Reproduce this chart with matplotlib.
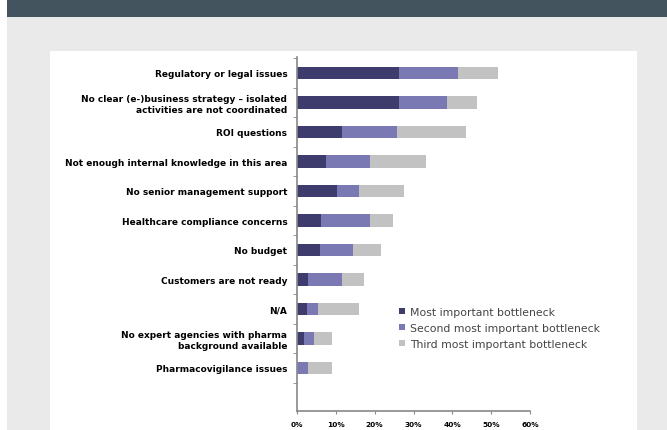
import numpy as np
import matplotlib
matplotlib.use("Agg")
import matplotlib.pyplot as plt
from matplotlib.patches import Rectangle

categories = [
    "Regulatory or legal issues",
    "No clear (e-)business strategy \u2013 isolated\nactivities are not coordinated",
    "ROI questions",
    "Not enough internal knowledge in this area",
    "No senior management support",
    "Healthcare compliance concerns",
    "No budget",
    "Customers are not ready",
    "N/A",
    "No expert agencies with pharma\nbackground available",
    "Pharmacovigilance issues",
]
most = [26.3, 26.3, 11.6, 7.4, 10.3, 6.2, 5.9, 2.8, 2.5, 1.8, 0.0]
second = [15.2, 12.4, 14.2, 11.4, 5.7, 12.6, 8.5, 8.8, 2.9, 2.6, 2.8]
third = [10.3, 7.7, 17.8, 14.4, 11.6, 6.0, 7.2, 5.7, 10.6, 4.6, 6.2]
series_names = ["Most important bottleneck", "Second most important bottleneck",
                "Third most important bottleneck"]
colors = ["#3d3c6c", "#7a79b4", "#c2c2c2"]

fig = plt.figure(figsize=(6.67, 4.31), dpi=100)
fig.patch.set_facecolor("white")

# page background: gray area, dark header, white chart panel
fig.add_artist(Rectangle((7 / 667, 0), 1, 1, transform=fig.transFigure,
                         facecolor="#eaeaea", edgecolor="none", zorder=-3))
fig.add_artist(Rectangle((7 / 667, 1 - 18 / 431), 1, 18 / 431, transform=fig.transFigure,
                         facecolor="#44545f", edgecolor="none", zorder=-2))
fig.add_artist(Rectangle((50 / 667, 0), 587 / 667, 1 - 52 / 431, transform=fig.transFigure,
                         facecolor="white", edgecolor="none", zorder=-2))

ax = fig.add_axes([297 / 667, 1 - 412 / 431, 233 / 667, 354 / 431])
ax.patch.set_alpha(0)

y = np.arange(len(categories))
most = np.array(most)
second = np.array(second)
third = np.array(third)
h = 0.42
ax.barh(y, most, height=h, color=colors[0], label=series_names[0])
ax.barh(y, second, left=most, height=h, color=colors[1], label=series_names[1])
ax.barh(y, third, left=most + second, height=h, color=colors[2], label=series_names[2])

ax.set_xlim(0, 60)
ax.set_ylim(len(categories) + 0.46, -0.54)
ax.set_xticks(np.arange(0, 61, 10))
ax.set_xticklabels([f"{v}%" for v in range(0, 61, 10)], fontsize=5.3, fontweight="bold")
ax.set_yticks(y)
ax.set_yticklabels(categories, fontsize=6.5, fontweight="bold")
ax.tick_params(axis="y", length=0, pad=7)
ax.set_yticks(np.arange(-0.5, len(categories) + 0.5, 1), minor=True)
ax.tick_params(axis="y", which="minor", length=3, color="#888888")
ax.tick_params(axis="x", length=2, color="#888888", pad=5)
for s in ["top", "right"]:
    ax.spines[s].set_visible(False)
for s in ["left", "bottom"]:
    ax.spines[s].set_color("#888888")
    ax.spines[s].set_linewidth(1.2)

ax.legend(loc="center left", bbox_to_anchor=(0.42, 0.235), frameon=False, fontsize=7.8,
          handlelength=0.55, handleheight=0.55, handletextpad=0.45, labelspacing=0.55,
          borderaxespad=0, labelcolor="#444444")

fig.savefig("out.png", dpi=100)
